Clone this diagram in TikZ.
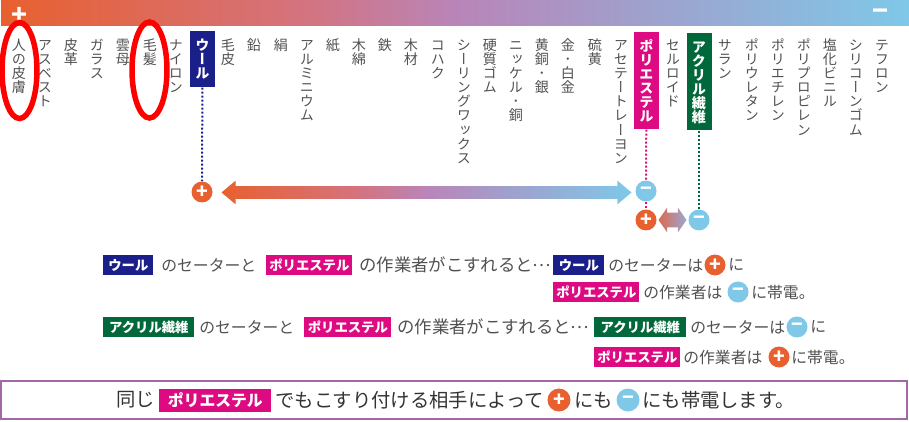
\documentclass[tikz,border=0pt]{standalone}
\usepackage{fontspec}
\usepackage{tikz}
\usetikzlibrary{shapes.geometric,shapes.arrows,calc}
\setmainfont{Noto Sans CJK JP}
\newfontfamily\vertfont[RawFeature={vertical;+vert}]{Noto Sans CJK JP}
\definecolor{woolblue}{HTML}{1B1F8A}
\definecolor{polypink}{HTML}{DE0A82}
\definecolor{acrylgreen}{HTML}{00683A}
\definecolor{plusred}{HTML}{E8602F}
\definecolor{minusblue}{HTML}{7FC8E8}
\definecolor{barone}{HTML}{D4737E}
\definecolor{bartwo}{HTML}{B985B8}
\definecolor{barthree}{HTML}{A59AC8}
\definecolor{framepurple}{HTML}{A268A8}
\definecolor{inkgray}{HTML}{505050}
\pgfdeclarehorizontalshading{heatbar}{100bp}{color(0bp)=(plusred); color(25bp)=(plusred); color(41.5bp)=(barone); color(50bp)=(bartwo); color(58bp)=(barthree); color(75bp)=(minusblue); color(100bp)=(minusblue)}
\def\px{0.02cm}
\newcommand{\middots}{\raisebox{0.3em}{…}}
\tikzset{
  x=0.02cm, y=-0.02cm,
  fiber/.style={rotate=-90, anchor=west, inner sep=0pt, text height=2pt, text depth=2pt, text=inkgray, font=\fontsize{8}{8}\vertfont},
  fiberbox/.style={rotate=-90, anchor=west, inner sep=0pt, text height=2pt, text depth=2pt, minimum height=25*\px, text=white, font=\fontsize{8}{8}\vertfont\bfseries},
  redring/.style={draw=red, ellipse, line width=5.5*\px, minimum width=35*\px, minimum height=96*\px, inner sep=0pt},
  charge/.style={circle, minimum size=21*\px, inner sep=0pt, text=white, font=\fontsize{11}{11}\selectfont\bfseries},
  plussign/.style={charge, fill=plusred},
  minussign/.style={charge, fill=minusblue},
  badge/.style={anchor=west, inner sep=0pt, minimum height=20*\px, text=white, font=\fontsize{7.6}{8}\selectfont\bfseries},
  rowtext/.style={anchor=west, inner sep=0pt, text=inkgray, font=\fontsize{9}{10}\selectfont},
  widetext/.style={rowtext, font=\fontsize{9.9}{10}\selectfont},
  bigtext/.style={anchor=west, inner sep=0pt, text=black!80, font=\fontsize{11}{12}\selectfont},
  barsign/.style={text=white, inner sep=0pt, font=\fontsize{15}{15}\selectfont\bfseries},
  tie/.style={line width=2*\px, dash pattern=on 2*\px off 2*\px}
}
\begin{document}
\begin{tikzpicture}
    \useasboundingbox (0,0) rectangle (909,422);
    % Top bar
    \shade[shading=heatbar] (1,1) rectangle (909,26);
    \node[barsign] (barplus) at (20,16) {+};
    \node[barsign] (barminus) at (881,15) {−};

    % The series, one label per column
    \foreach \tx/\lbl in {19/人の皮膚,45/アスベスト,71/皮革,97/ガラス,123/雲母,150/毛髪,176/ナイロン,228/毛皮,254/鉛,281/絹,307/アルミニウム,333/紙,359/木綿,385/鉄,411/木材,438/コハク,464/シーリングワックス,490/硬質ゴム,516/ニッケル･銅,542/黄銅･銀,568/金･白金,595/硫黄,621/アセテートレーヨン,673/セルロイド,725/サラン,752/ポリウレタン,778/ポリエチレン,804/ポリプロピレン,830/塩化ビニル,856/シリコーンゴム,882/テフロン}
        \node[fiber] (fiber\tx) at (\tx,38) {\lbl};

    % Red rings
    \node[redring] (ringskin) at (19.5,70.5) {};
    \node[redring] (ringhair) at (149.5,70) {};

    % Boxed columns
    \node[fiberbox, fill=woolblue, minimum width=56*\px] (wool) at (202.5,31) {ウール};
    \node[fiberbox, fill=polypink, minimum width=97*\px] (poly) at (646.5,32) {ポリエステル};
    \node[fiberbox, fill=acrylgreen, minimum width=97*\px] (acryl) at (699,33) {アクリル繊維};

    % Charges
    \node[plussign] (woolplus) at (202,192) {+};
    \node[minussign] (polyminus) at (646,191) {−};
    \node[plussign] (polyplus) at (646,220) {+};
    \node[minussign] (acrylminus) at (699,220) {−};

    % Dotted ties
    \draw[tie, woolblue] (wool) -- (woolplus);
    \draw[tie, polypink] (poly) -- (polyminus);
    \draw[tie, polypink] (polyminus) -- (polyplus);
    \draw[tie, acrylgreen] (acryl) -- (acrylminus);

    % Double arrows
    \node[double arrow, double arrow head extend=5.5*\px, double arrow tip angle=80, minimum height=410*\px, text height=12*\px, text depth=0pt, inner sep=0pt, shading=heatbar] (bigarrow) at ($(woolplus)!0.5!(polyminus)+(2.5,1)$) {};
    \node[double arrow, double arrow head extend=5*\px, double arrow tip angle=110, minimum height=28*\px, text height=14*\px, text depth=0pt, inner sep=0pt, left color=plusred!75!bartwo, right color=barthree!70!minusblue] (smallarrow) at ($(polyplus)!0.5!(acrylminus)$) {};

    % First sentence
    \node[badge, fill=woolblue, minimum width=50*\px] (wa) at (103,265) {ウール};
    \node[rowtext] (wb) at (161,265) {のセーターと};
    \node[badge, fill=polypink, minimum width=86*\px] (wc) at (266,265) {ポリエステル};
    \node[widetext] (wd) at (359,265) {の作業者がこすれると\middots};
    \node[badge, fill=woolblue, minimum width=51*\px] (we) at (553,265) {ウール};
    \node[rowtext] (wf) at (608,265) {のセーターは};
    \node[plussign] (wg) at (715,265) {+};
    \node[rowtext] (wh) at (728,265) {に};
    \node[badge, fill=polypink, minimum width=86*\px] (wi) at (553,292) {ポリエステル};
    \node[rowtext] (wj) at (643,292) {の作業者は};
    \node[minussign] (wk) at (738,292) {−};
    \node[rowtext] (wl) at (751,292) {に帯電。};

    % Second sentence
    \node[badge, fill=acrylgreen, minimum width=91*\px] (aa) at (103,327) {アクリル繊維};
    \node[rowtext] (ab) at (199,327) {のセーターと};
    \node[badge, fill=polypink, minimum width=87*\px] (ac) at (304,327) {ポリエステル};
    \node[widetext] (ad) at (397,327) {の作業者がこすれると\middots};
    \node[badge, fill=acrylgreen, minimum width=92*\px] (ae) at (594,327) {アクリル繊維};
    \node[rowtext] (af) at (690,327) {のセーターは};
    \node[minussign] (ag) at (797,327) {−};
    \node[rowtext] (ah) at (810,327) {に};
    \node[badge, fill=polypink, minimum width=86*\px] (ai) at (594,357) {ポリエステル};
    \node[rowtext] (aj) at (683,357) {の作業者は};
    \node[plussign] (ak) at (779,357) {+};
    \node[rowtext] (al) at (791,357) {に帯電。};

    % Bottom frame
    \draw[draw=framepurple, line width=1.5*\px] (1,381) rectangle (907,419);
    \node[bigtext] (ca) at (116,400) {同じ};
    \node[badge, fill=polypink, minimum width=112*\px, minimum height=23*\px, font=\fontsize{9}{10}\selectfont\bfseries] (cb) at (159,400) {ポリエステル};
    \node[bigtext] (cc) at (275,400) {でもこすり付ける相手によって};
    \node[plussign, minimum size=23*\px] (cd) at (559,400) {+};
    \node[bigtext] (ce) at (574,400) {にも};
    \node[minussign, minimum size=23*\px] (cf) at (628,400) {−};
    \node[bigtext] (cg) at (642,400) {にも帯電します。};
\end{tikzpicture}
\end{document}
